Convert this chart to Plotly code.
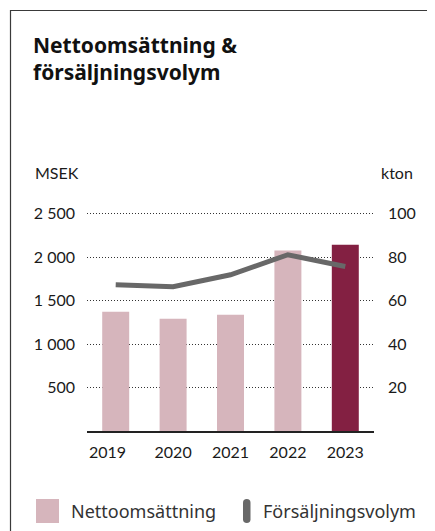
import plotly.graph_objects as go

years = ["2019", "2020", "2021", "2022", "2023"]
year_labels = ["2019\u00a0\u00a0\u00a0\u00a0", "2020", "2021", "2022", "2023"]
net_sales_msek = [1371, 1290, 1336, 2077, 2143]
sales_volume_kton = [67.3, 66.4, 71.9, 81.1, 75.7]
left_ticks = [500, 1000, 1500, 2000, 2500]
left_ticktext = ["500", "1 000", "1 500", "2 000", "2 500"]
right_ticks = [20, 40, 60, 80, 100]
right_ticktext = ["20", "40", "60", "80", "100"]

OFF = 8  # page body margin offset
W, H = 435 - OFF, 531 - OFF
L, R, T, B = 87 - OFF, 61, 205 - OFF, 100
PW, PH = W - L - R, H - T - B


def px_x(px):
    return (px - OFF - L) / PW


def px_y(py):
    return (H - B - (py - OFF)) / PH


bar_colors = ["#d6b5bc"] * 4 + ["#832042"]
axis_font = dict(family="Lato", size=16, color="#1a1a1a")

fig = go.Figure()
fig.add_trace(go.Bar(
    x=years, y=net_sales_msek, name="Nettoomsättning",
    marker=dict(color=bar_colors, line=dict(width=0)),
    width=0.47, showlegend=False, hoverinfo="skip",
))
fig.add_trace(go.Scatter(
    x=years, y=sales_volume_kton, name="Försäljningsvolym", yaxis="y2",
    mode="lines", line=dict(color="#686868", width=5),
    showlegend=False, hoverinfo="skip",
))

fig.update_layout(
    width=W, height=H,
    margin=dict(l=L, r=R, t=T, b=B, pad=0),
    paper_bgcolor="white", plot_bgcolor="white",
    xaxis=dict(
        type="category", tickmode="array", tickvals=years, ticktext=year_labels,
        showline=True, linecolor="#222", linewidth=1.5, showgrid=False,
        ticks="", tickfont=axis_font, ticklabelstandoff=6, fixedrange=True,
    ),
    yaxis=dict(
        range=[0, 2600], tickmode="array", tickvals=left_ticks, ticktext=left_ticktext,
        showgrid=True, gridcolor="#333", gridwidth=1, griddash="1px,2px",
        zeroline=False, showline=False, ticks="", tickfont=axis_font,
        ticklabelstandoff=11, fixedrange=True,
    ),
    yaxis2=dict(
        range=[0, 104], overlaying="y", side="right", tickmode="array",
        tickvals=right_ticks, ticktext=right_ticktext, showgrid=False,
        zeroline=False, showline=False, ticks="", tickfont=axis_font,
        ticklabelstandoff=13, fixedrange=True,
    ),
)

annotations = [
    dict(text="<b>Nettoomsättning &<br>försäljningsvolym</b>", x=px_x(31), y=px_y(29),
         xanchor="left", yanchor="top", align="left", showarrow=False,
         font=dict(family="Noto Sans", size=21, color="#111")),
    dict(text="MSEK", x=px_x(33), y=px_y(172), xanchor="left", yanchor="middle",
         showarrow=False, font=axis_font),
    dict(text="kton", x=px_x(415), y=px_y(172), xanchor="right", yanchor="middle",
         showarrow=False, font=axis_font),
    dict(text="Nettoomsättning", x=px_x(69), y=px_y(511), xanchor="left", yanchor="middle",
         showarrow=False, font=dict(family="Noto Sans", size=18, color="#333")),
    dict(text="Försäljningsvolym", x=px_x(261), y=px_y(511), xanchor="left", yanchor="middle",
         showarrow=False, font=dict(family="Noto Sans", size=18, color="#333")),
]
for a in annotations:
    a.update(xref="paper", yref="paper")
fig.update_layout(annotations=annotations)


def pill_path(x0, x1, y0, y1):
    r = (x1 - x0) / 2
    xc = (x0 + x1) / 2
    pts = [
        ("M", x0, y0 + r), ("Q", x0, y0, xc, y0), ("Q", x1, y0, x1, y0 + r),
        ("L", x1, y1 - r), ("Q", x1, y1, xc, y1), ("Q", x0, y1, x0, y1 - r),
    ]
    s = ""
    for p in pts:
        cmd = p[0]
        coords = p[1:]
        parts = []
        for i in range(0, len(coords), 2):
            parts.append(f"{px_x(coords[i]):.5f},{px_y(coords[i + 1]):.5f}")
        s += cmd + " ".join(parts) + " "
    return s + "Z"


shapes = [
    dict(type="line", x0=px_x(10), x1=px_x(436), y0=px_y(10.5), y1=px_y(10.5),
         line=dict(color="#3a3a3a", width=1.2)),
    dict(type="line", x0=px_x(10.5), x1=px_x(10.5), y0=px_y(10), y1=px_y(532),
         line=dict(color="#3a3a3a", width=1.2)),
    dict(type="rect", x0=px_x(36), x1=px_x(59), y0=px_y(499), y1=px_y(523),
         fillcolor="#d6b5bc", line=dict(width=0)),
    dict(type="path", path=pill_path(243, 250.5, 499, 523),
         fillcolor="#686868", line=dict(width=0)),
]
for s in shapes:
    s.update(xref="paper", yref="paper", layer="above")
fig.update_layout(shapes=shapes)

fig.write_html("out.html", config={"displayModeBar": False})
